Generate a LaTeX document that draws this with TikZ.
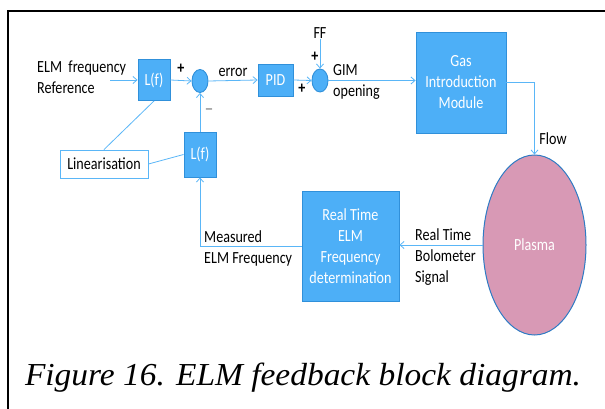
\documentclass[tikz,border=0pt]{standalone}
\usepackage{fontspec}
\setmainfont[FakeStretch=0.83]{Carlito}
\newfontfamily\capfont[FakeStretch=1.045]{Liberation Serif}
\newfontfamily\minusfont{Carlito}
\usetikzlibrary{arrows.meta,shapes.geometric}
\definecolor{boxfill}{HTML}{4DAFF7}
\definecolor{boxline}{HTML}{3090DA}
\definecolor{arr}{HTML}{5AB6F7}
\definecolor{plasmafill}{HTML}{D899B5}
\definecolor{plasmaline}{HTML}{2E7BC4}
\begin{document}
\begin{tikzpicture}[x=1pt,y=-1pt,
  blk/.style={draw=boxline, fill=boxfill, line width=0.9pt, text=white, inner sep=0pt, align=center, font=\fontsize{17}{21}\selectfont},
  sumc/.style={ellipse, draw=boxline, fill=boxfill, line width=0.9pt, minimum width=16pt, minimum height=23pt, inner sep=0pt},
  conn/.style={draw=arr, line width=0.8pt},
  arrow/.style={conn, -{Straight Barb[length=4pt,width=7pt]}},
  lbl/.style={font=\fontsize{17}{21}\selectfont, inner sep=0pt, align=left}]
\useasboundingbox (0,0) rectangle (605,409);
\draw[line width=1.5pt] (8,409) -- (8,11) -- (605,11);

% blocks
\node[blk, minimum width=32pt, minimum height=41pt] (Lf1) at (154,80) {L(f)};
\node[sumc] (sum1) at (200,81) {};
\node[blk, minimum width=35pt, minimum height=32pt] (pid) at (275.5,80) {PID};
\node[sumc] (sum2) at (320,80.5) {};
\node[blk, minimum width=90pt, minimum height=101pt] (gim) at (461,82.5) {Gas\\Introduction\\Module};
\node[ellipse, draw=plasmaline, fill=plasmafill, line width=1pt, minimum width=103pt, minimum height=180pt, text=white, font=\fontsize{17}{21}\selectfont] (plasma) at (534.5,245) {Plasma};
\node[blk, minimum width=97pt, minimum height=110pt] (rt) at (350.5,246) {Real Time\\ELM\\Frequency\\determination};
\node[blk, minimum width=32pt, minimum height=45pt] (Lf2) at (200,154.5) {L(f)};
\node[draw=arr, fill=white, line width=0.9pt, minimum width=88pt, minimum height=28pt, inner sep=0pt, font=\fontsize{17}{21}\selectfont] (lin) at (104,164) {Linearisation};

% labels
\node[lbl] (ref) at (37,77.5) [anchor=west] {ELM\ \ frequency\\Reference};
\node[lbl] (p1) at (181,69) {\textbf{+}};
\node[lbl] (err) at (233,72) {error};
\node[lbl] (p2) at (302,89) {\textbf{+}};
\node[lbl] (p3) at (315,57) {\textbf{+}};
\node[lbl] (ff) at (320,33) {FF};
\node[lbl, anchor=west] (gimlbl) at (333,82) {GIM\\opening};
\node[lbl] (flow) at (553,139) {Flow};
\node[inner sep=0pt, text=gray!85, font=\minusfont\bfseries\fontsize{16}{18}\selectfont] (minus) at (209,112) {−};
\node[lbl, anchor=west] (bolo) at (415,257) {Real Time\\Bolometer\\Signal};
\node[lbl, anchor=west] (meas) at (204,248.5) {Measured\\ELM Frequency};
\node[font=\capfont\itshape\fontsize{32}{36}\selectfont, inner sep=0pt] (cap) at (303,378) {Figure 16. ELM feedback block diagram.};

% connectors
\coordinate (refin) at (110,80);
\draw[arrow] (refin) -- (Lf1.west);
\draw[arrow] (Lf1.east) -- (sum1.west);
\draw[arrow] (sum1.east) -- (pid.west);
\draw[arrow] (pid.east) -- (sum2.west);
\draw[arrow] (ff.south) -- (sum2.north);
\draw[arrow] (sum2.east) -- (gim.west |- sum2.east);
\draw[arrow] (gim.east) -| (plasma.north);
\draw[arrow] (plasma.west) -- (rt.east |- plasma.west);
\draw[arrow] (rt.west) -| (Lf2.south);
\draw[arrow] (Lf2.north) -- (sum1.south);
\draw[conn] (lin.north) -- (Lf1.south);
\draw[conn] (lin.east) -- (Lf2.west);
\end{tikzpicture}
\end{document}
